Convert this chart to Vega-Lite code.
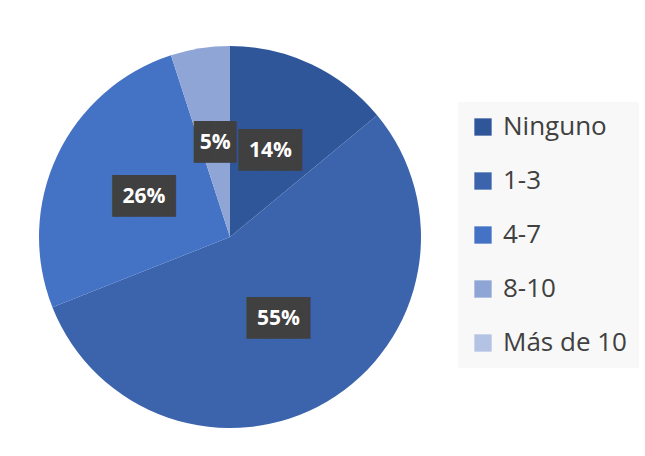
{
  "$schema": "https://vega.github.io/schema/vega-lite/v6.json",
  "width": 460,
  "height": 474,
  "autosize": {"type": "none"},
  "padding": {"left": 0, "top": 0, "right": 185, "bottom": 0},
  "background": "white",
  "config": {"view": {"stroke": null}},
  "data": {
    "values": [
      {"cat": "Ninguno", "value": 14, "ord": 1, "label": "14%"},
      {"cat": "1-3", "value": 55, "ord": 2, "label": "55%"},
      {"cat": "4-7", "value": 26, "ord": 3, "label": "26%"},
      {"cat": "8-10", "value": 5, "ord": 4, "label": "5%"},
      {"cat": "Más de 10", "value": 0, "ord": 5, "label": "0%"}
    ]
  },
  "encoding": {
    "theta": {"field": "value", "type": "quantitative", "stack": true},
    "order": {"field": "ord", "type": "quantitative"}
  },
  "layer": [
    {
      "mark": {"type": "arc", "outerRadius": 191},
      "encoding": {
        "color": {
          "field": "cat",
          "type": "nominal",
          "scale": {
            "domain": ["Ninguno", "1-3", "4-7", "8-10", "Más de 10"],
            "range": ["#30569A", "#3B64AD", "#4472C4", "#8FA5D6", "#B4C3E4"]
          },
          "legend": {
            "title": null,
            "orient": "none",
            "legendX": 458,
            "legendY": 102,
            "fillColor": "#F8F8F8",
            "padding": 12,
            "symbolType": "square",
            "symbolSize": 300,
            "symbolStrokeWidth": 0,
            "labelFontSize": 26,
            "labelFont": "Open Sans",
            "labelColor": "#404040",
            "rowPadding": 28,
            "labelOffset": 7
          }
        }
      }
    },
    {
      "transform": [
        {"filter": "datum.value > 0"},
        {"calculate": "length(datum.label) > 2 ? '███' : '██'", "as": "box"}
      ],
      "mark": {"type": "text", "radius": 95, "font": "DejaVu Sans Mono", "fontSize": 35, "color": "#404040", "baseline": "middle", "align": "center"},
      "encoding": {
        "text": {"field": "box"},
        "detail": {"field": "cat"}
      }
    },
    {
      "transform": [{"filter": "datum.value > 0"}],
      "mark": {"type": "text", "radius": 95, "font": "Open Sans", "fontSize": 21, "fontWeight": "bold", "color": "white", "baseline": "middle", "align": "center"},
      "encoding": {
        "text": {"field": "label"},
        "detail": {"field": "cat"}
      }
    }
  ]
}
